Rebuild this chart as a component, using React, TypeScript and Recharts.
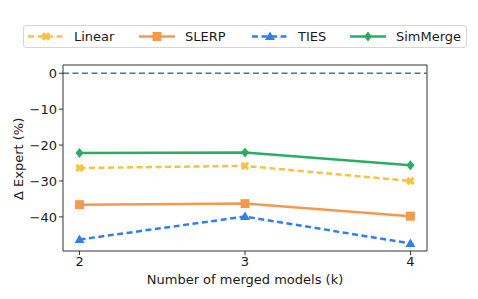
import { LineChart, Line, XAxis, YAxis, ReferenceLine } from 'recharts';

// merged model counts
const K_VALUES = [2, 3, 4];
const LINEAR = [-26.4, -25.8, -30.0];
const SLERP = [-36.6, -36.3, -39.8];
const TIES = [-46.3, -39.9, -47.4];
const SIMMERGE = [-22.2, -22.1, -25.6];
const Y_TICKS = [0, -10, -20, -30, -40];

const data = K_VALUES.map((k, i) => ({
  k,
  linear: LINEAR[i],
  slerp: SLERP[i],
  ties: TIES[i],
  simmerge: SIMMERGE[i],
}));

const FONT = '"DejaVu Sans", sans-serif';

const SERIES = [
  { key: 'linear', name: 'Linear', color: '#F6C243', dash: '6 3.5', shape: 'x' },
  { key: 'slerp', name: 'SLERP', color: '#F5994A', dash: undefined, shape: 'square' },
  { key: 'ties', name: 'TIES', color: '#2F80ED', dash: '6 3.5', shape: 'triangle' },
  { key: 'simmerge', name: 'SimMerge', color: '#27AE60', dash: undefined, shape: 'diamond' },
];

const Marker = ({ shape, x, y, color }: { shape: string; x: number; y: number; color: string }) => {
  const s = 4.5;
  if (shape === 'square') {
    return <rect x={x - s} y={y - s} width={s * 2} height={s * 2} fill={color} />;
  }
  if (shape === 'triangle') {
    return <polygon points={`${x},${y - s - 0.5} ${x + s + 0.5},${y + s - 1} ${x - s - 0.5},${y + s - 1}`} fill={color} />;
  }
  if (shape === 'diamond') {
    return <polygon points={`${x},${y - s - 0.5} ${x + s - 0.5},${y} ${x},${y + s + 0.5} ${x - s + 0.5},${y}`} fill={color} />;
  }
  // filled X
  const a = 1.6;
  const b = 4.5;
  return (
    <g transform={`translate(${x},${y}) rotate(45)`}>
      <rect x={-b} y={-a} width={b * 2} height={a * 2} fill={color} />
      <rect x={-a} y={-b} width={a * 2} height={b * 2} fill={color} />
    </g>
  );
};

const renderDot = (shape: string, color: string) => (props: any) => {
  const { cx, cy, index } = props;
  if (cx == null || cy == null) return <g key={index} />;
  return <Marker key={index} shape={shape} x={cx} y={cy} color={color} />;
};

const LegendBox = () => (
  <div
    style={{
      position: 'absolute',
      left: 23,
      top: 25,
      width: 444,
      height: 23,
      border: '1px solid #d6d6d6',
      borderRadius: 3,
      boxSizing: 'border-box',
      fontFamily: FONT,
      fontSize: 13,
      color: '#1a1a1a',
      background: '#fff',
    }}
  >
    {SERIES.map((s, i) => {
      const left = [4, 115, 228, 326][i];
      return (
        <div key={s.key} style={{ position: 'absolute', left, top: 2, display: 'flex', alignItems: 'center' }}>
          <svg width={36} height={17}>
            <line x1={0} y1={8.5} x2={36} y2={8.5} stroke={s.color} strokeWidth={2.5} strokeDasharray={s.dash} />
            <Marker shape={s.shape} x={18} y={8.5} color={s.color} />
          </svg>
          <span style={{ marginLeft: 10, lineHeight: '17px' }}>{s.name}</span>
        </div>
      );
    })}
  </div>
);

export default function App() {
  return (
    <div style={{ position: 'absolute', left: 0, top: 0, width: 478, height: 299, background: '#fff' }}>
      <LineChart width={478} height={299} data={data} margin={{ top: 65, right: 51, bottom: 18, left: 0 }}>
        <XAxis
          dataKey="k"
          type="number"
          domain={[1.9, 4.1]}
          ticks={K_VALUES}
          height={30}
          tickSize={4}
          stroke="#333"
          tick={{ fill: '#1a1a1a', fontSize: 13, fontFamily: FONT }}
          label={{ value: 'Number of merged models (k)', position: 'insideBottom', offset: -3, fill: '#1a1a1a', fontSize: 13, fontFamily: FONT }}
        />
        <YAxis
          type="number"
          domain={[-49.5, 2.3]}
          ticks={Y_TICKS}
          width={63}
          tickSize={4}
          stroke="#333"
          allowDataOverflow
          tickFormatter={(v: number) => (v < 0 ? `\u2212${Math.abs(v)}` : `${v}`)}
          tick={{ fill: '#1a1a1a', fontSize: 13, fontFamily: FONT }}
          label={{ value: 'Δ Expert (%)', angle: -90, position: 'insideLeft', offset: 18, dy: 42, fill: '#1a1a1a', fontSize: 13, fontFamily: FONT }}
        />
        <ReferenceLine y={2.3} stroke="#333" strokeWidth={1} />
        <ReferenceLine x={4.1} stroke="#333" strokeWidth={1} />
        <ReferenceLine y={0} stroke="#2C7BB6" strokeWidth={1.5} strokeDasharray="6 3.5" />
        {SERIES.map((s) => (
          <Line
            key={s.key}
            dataKey={s.key}
            name={s.name}
            stroke={s.color}
            strokeWidth={2.5}
            strokeDasharray={s.dash}
            dot={renderDot(s.shape, s.color)}
            activeDot={false}
            isAnimationActive={false}
          />
        ))}
      </LineChart>
      <LegendBox />
    </div>
  );
}
